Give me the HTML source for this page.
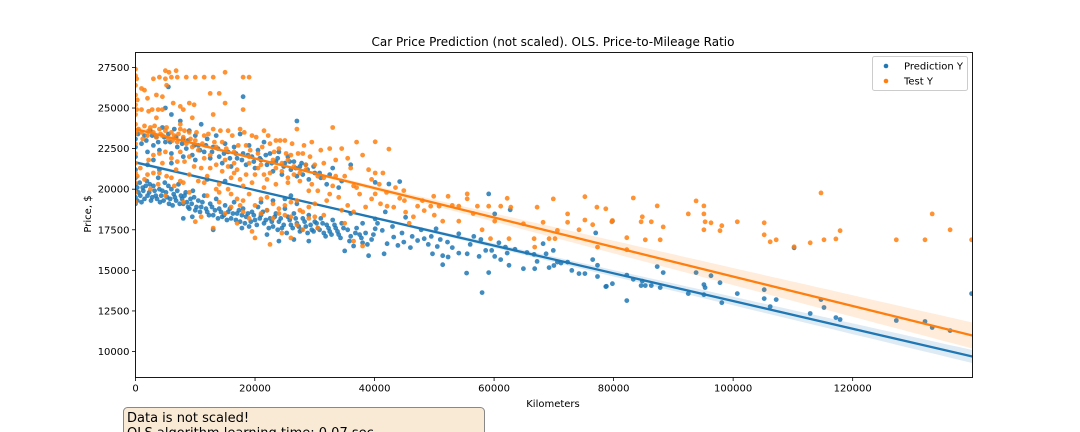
<!DOCTYPE html>
<html><head><meta charset="utf-8">
<style>
html,body{margin:0;padding:0;background:#fff;width:1080px;height:432px;overflow:hidden;}
svg{display:block;font-family:"DejaVu Sans","Liberation Sans",sans-serif;}
</style></head>
<body>
<svg id="chart" width="1080" height="432" viewBox="0 0 1080 432" xmlns="http://www.w3.org/2000/svg">
  <text x="553" y="46" font-size="12" text-anchor="middle" fill="#000">Car Price Prediction (not scaled). OLS. Price-to-Mileage Ratio</text>
  <g id="plot"></g>
  <rect x="135.5" y="52.5" width="837" height="325" fill="none" stroke="#000" stroke-width="0.9"/>
  <g id="ticks"></g>
  <text x="553" y="407" font-size="10" text-anchor="middle">Kilometers</text>
  <text x="91" y="214" font-size="10" text-anchor="middle" transform="rotate(-90 91 214)">Price, $</text>
  <g>
    <rect x="872.5" y="56.5" width="95" height="34" rx="2" fill="#fff" fill-opacity="0.8" stroke="#ccc"/>
    <circle cx="886" cy="66" r="2.3" fill="#1f77b4"/>
    <text x="904" y="69.5" font-size="10">Prediction Y</text>
    <circle cx="886" cy="81" r="2.3" fill="#ff7f0e"/>
    <text x="904" y="84.5" font-size="10">Test Y</text>
  </g>
  <g>
    <rect x="123.5" y="407.5" width="361" height="40" rx="4" fill="#f9ead6" stroke="#888" stroke-width="1"/>
    <text x="127" y="422" font-size="13">Data is not scaled!</text>
    <text x="127" y="437" font-size="13">OLS algorithm learning time: 0.07 sec</text>
  </g>
</svg>
<script>
const xTicks=[0,20000,40000,60000,80000,100000,120000];
const yTicks=[10000,12500,15000,17500,20000,22500,25000,27500];
const predFit=[21650,-0.0854];
const testFit=[23700,-0.0908];
const predPoints=[[0,19100],[0,19500],[0,19900],[0,20300],[0,20700],[0,21200],[0,22600],[0,23100],[0,22000],[300,19300],[300,20100],[400,23400],
[800,19600],[1200,20100],[1500,19400],[1900,20500],[2300,19800],[2600,19300],[3000,20200],[3400,19600],[3800,20700],[4100,19200],[4500,19900],[4900,20400],[5300,19500],[5600,19100],[6000,20000],[6400,19700],[6800,19300],[7200,20300],[7600,19600],[8000,19100],[8400,19800],[8800,18900],[9200,19400],[9600,19900],[10000,18700],
[10500,19300],[11000,18900],[11500,19600],[12000,18600],[12500,19100],[13000,18400],[13500,19400],[14000,18800],[14500,18300],[15000,19000],[15500,18600],[16000,18200],[16500,19200],[17000,18500],[17500,18000],[18000,18800],[18500,18300],[19000,17700],[19500,18600],[20000,18100],[9500,18300],[8000,18200],[13000,17500],[17800,17600],
[20500,18900],[21000,18400],[21500,17900],[22000,18700],[22500,18200],[23000,17700],[23500,18500],[24000,18000],[24500,17600],[25000,18800],[25500,18300],[26000,17800],[26500,18500],[27000,17900],[27500,17400],[28000,18200],[28500,17700],[29000,18400],[29500,17500],[30000,18000],[21000,19200],[23000,19300],[25000,19400],[22000,17200],[24000,16800],[26500,16900],[29000,16800],[27000,19100],[26000,19600],
[30500,17600],[31000,18200],[31500,17300],[32000,17800],[32500,17400],[33000,18100],[33500,17600],[34000,17200],[34500,17900],[35000,16200],[35500,17500],[36000,17100],[36500,16500],[37000,17600],[37500,17200],[38000,16700],[38500,17300],[39000,15900],[39500,16900],[36000,18500],[38000,17900],
[1000,22800],[1500,23300],[2000,22300],[2500,23600],[3000,22700],[3500,23200],[4000,22400],[4500,23800],[5000,22900],[5500,23400],[6000,22200],[6500,23700],[7000,22600],[7500,24200],[8000,23100],[8500,22500],[9000,23600],[9500,22100],[10000,23300],[10500,22700],[11000,24000],[11500,22300],[12000,23100],[12500,21900],[13000,22600],[13500,23300],[14000,22000],[14500,21600],[15000,22800],[15500,22300],[16000,21400],[16500,22600],[17000,21900],[17500,23400],[18000,22200],[18500,21500],[19000,22700],[19500,22000],[20000,21300],[20500,22400],[21000,21800],[21500,22900],[22000,21500],[22500,22200],[23000,21100],[23500,21700],[24000,22300],[24500,20900],[25000,21600],[25500,22000],[26000,21200],[26500,21700],[27000,20800],[27000,24200],[27500,21400],[28000,20900],[28500,21500],[29000,20600],[30000,21000],[31000,20700],[32000,20300],[33000,21300],[34000,20100],[36000,21500],[5000,25000],[5500,26300],[18000,25700],[6000,24600],[15000,20500],[12000,20600],[4000,21200],[2000,21500],
[500,19800],[700,20400],[1000,19200],[1300,19900],[1700,20200],[2000,19600],[2400,20300],[2800,19500],[3200,19900],[3600,19400],[4000,20000],[4300,19600],[4700,19300],[5100,19800],[5500,20200],[5800,19400],[6200,19000],[6600,19500],[7000,19900],[7400,19100],[7800,19400],[8200,19600],[8600,19200],[9000,18800],[9400,19100],[9800,19500],[10200,18900],[10800,18600],[11200,19200],[11800,18800],[12300,18400],[12800,18900],[13300,18700],[13800,18200],[14300,18600],[14800,18400],[15300,18100],[15800,18800],[16300,18500],[16800,18100],[17300,18700],[17800,18400],[18300,17900],[18800,18500],[19300,18000],[19800,18400],[20300,17800],[20800,18200],[21300,18600],[21800,18100],[22300,17600],[22800,18000],[23300,18300],[23800,17500],[24300,18200],[24800,17800],[25300,17300],[25800,18100],[26300,17600],[26800,18200],[27300,17700],[27800,17500],[28300,18000],[28800,17300],[29300,17800],[29800,17400],[30300,17900],[30800,17500],[31300,17900],[31800,17100],[32300,17600],[32800,17200],[33300,17800],[33800,17400],[34300,17000],[34800,17600],[35800,16800],[36800,17300],[37800,17000],[38800,16600],[39800,17200],
[1800,23000],[2800,23300],[3800,22900],[4800,23200],[5800,22900],[6800,23200],[7800,22800],[8800,23000],[9800,22700],[10800,22400],[11800,22700],[12800,22300],[13800,22500],[14800,22200],[15800,21900],[16800,22200],[17800,21800],[18800,22100],[19800,21700],[20800,21900],[21800,22100],[22800,21600],[23800,21900],[24800,21400],[25800,21700],[26800,21300],[27800,21600],[28800,21200],[29800,21400],[30800,21000],[32500,20900],[34500,20500],[8000,22000],[10000,21800],[6000,21600],[3000,21800],
[40100,20420],[42400,20320],[44200,20470],[40100,18170],[40100,17560],[41300,17460],[41600,16020],[42100,16640],[43200,17050],[43900,16540],[44900,16740],[45200,18270],[46300,17090],[47200,16840],[48300,16950],[49500,17090],[49700,16020],[50300,17560],[50500,16470],[51400,15350],[51400,15900],[52200,16740],[52300,15820],[54100,17250],[54100,16060],[55400,14830],[55500,16020],[56600,17090],[57500,15860],[58000,13630],[58600,16230],[59100,19710],[59100,14860],[59600,16230],[60100,18480],[60100,15860],[61100,15660],[61900,16430],[62200,16060],[62500,15310],[62700,18730],[64900,15100],[66700,15980],[66800,15100],[67200,15550],[68200,16640],[68700,16020],[69200,15170],[69900,16230],[70600,15510],[71200,15450],[72300,15510],[74200,14800],[75200,14800],[76500,15660],[77000,17310],[77300,15310],[77300,14620],[78800,14020],[79800,14180],[79800,18030],
[40500,17900],[41800,18600],[43000,17700],[44600,17300],[46000,16400],[47800,17500],[49000,16600],[51000,16900],[53000,16400],[56000,16600],[57800,16900],[60800,16700],[63500,16300],[65500,16100],[70000,15300],[73000,15000],
[78700,14000],[82200,14710],[82200,13140],[83300,14450],[84600,14060],[84800,14340],[85300,14060],[86300,14060],[87300,15230],[87800,13940],[88300,14860],[92500,13570],[93800,14860],[95100,14120],[95300,13940],[95100,13500],[96300,14670],[97800,14240],[98100,13010],[100700,13570],[105200,13810],[105200,13260],[106200,12770],[107200,13200],[110200,16390],[112900,12340],[114700,13200],[115200,12710],[117200,12090],[117900,11970],[127300,11910],[132100,11850],[133300,11480],[136300,11290],[139900,13570]];
const testPoints=[[0,19200],[0,19800],[0,20400],[0,21000],[0,21600],[0,22200],[0,22800],[0,23400],[0,24000],[0,24600],[0,25200],[0,25800],[0,26400],[0,27000],[0,27400],[200,26800],[200,24900],[200,23600],[300,20800],[300,25500],
[1000,24900],[1500,26100],[2000,25600],[2200,24800],[2800,24900],[3000,26800],[3500,25800],[3800,24900],[4000,26900],[4500,24900],[5000,27300],[5000,26800],[5200,26400],[5600,27200],[6000,26900],[6300,25300],[6800,27300],[7000,26900],[7500,25100],[8000,24900],[8500,26900],[9000,25300],[9800,25200],[10000,26900],[11500,26900],[12500,25900],[13000,26900],[14000,25900],[15000,27200],[15000,25300],[18000,26900],[19000,26900],[18000,24900],[3500,24400],[9500,24400],[13000,24600],[1000,26200],[4500,25700],[7500,24000],
[500,23700],[1000,23500],[1500,23900],[2000,23300],[2500,23800],[3000,23500],[3500,23200],[4000,23700],[4500,23300],[5000,23600],[5500,23100],[6000,23500],[6500,23300],[7000,22900],[7500,23700],[8000,23200],[8500,22800],[9000,23500],[9500,22600],[10000,23000],
[800,21300],[1500,20600],[2200,21800],[3000,21000],[3800,20300],[4500,21600],[5200,20800],[6000,21900],[6800,21200],[7500,20500],[8200,21700],[9000,20900],[9800,21400],[2500,20000],[6500,20200],[4000,22200],[7500,22300],[9000,19800],[5000,19600],[10000,18000],[8000,19200],
[10500,22400],[11000,21300],[11500,23300],[12000,20800],[12500,22100],[13000,23700],[13500,21500],[14000,20300],[14500,22900],[15000,21800],[15500,23600],[16000,20700],[16500,22300],[17000,21200],[17500,23700],[18000,20200],[18500,22700],[19000,21600],[19500,23300],[20000,20900],[20500,22200],[21000,21500],[21500,23600],[22000,20600],[22500,22800],[23000,21800],[23500,20300],[24000,22500],[24500,21100],[25000,23000],[25500,20700],[26000,22100],[26500,21400],[27000,23700],[27500,20500],[28000,22200],[28500,21200],[29000,19900],[29500,22900],[30000,21500],[12000,19600],[14000,19200],[16000,19700],[18000,19300],[11000,18300],[13000,17600],[15000,18500],[17000,17900],[19000,18200],[20000,17000],[21000,19400],[22000,18700],[23000,19100],[24000,18500],[25000,19000],[26000,18300],[27000,19300],[28000,17500],[22500,16600],[24500,17300],[19500,17400],[26000,17000],[27500,18700],[29000,18900],[30000,18300],[16500,21000],[19000,22000],[21500,20100],[23500,23000],[13500,22600],[15500,20000],[17500,19000],[25500,21800],[11500,21900],[10500,20500],
[30500,19900],[31000,22400],[31500,20700],[32000,19300],[32500,22500],[33000,20200],[33500,21800],[34000,19500],[34500,22500],[35000,20800],[35500,19000],[36000,21300],[36500,18600],[37000,20100],[37500,19700],[38000,22100],[38500,18900],[39000,21200],[39500,19400],[33000,23800],[31500,18400],[35000,17900],[38000,16500],[36500,16800],[30500,17600],[37000,22900],[39500,20600],
[1200,23100],[2200,23600],[3200,23900],[4200,23400],[5200,23800],[6200,23000],[7200,23400],[8200,23600],[9200,23100],[10200,23500],[11200,22800],[12200,23400],[13200,22900],[14200,23600],[15200,22500],[16200,23300],[17200,22700],[18200,23500],[19200,22400],[20200,23200],[21200,22600],[22200,23300],[23200,22300],[24200,23000],[25200,22200],[26200,22800],[27200,22200],[28200,22700],[29200,22000],[12500,21300],[14500,21100],[16500,21600],[18500,20900],[20500,21300],[22500,21000],[24500,21600],[26500,20900],[28500,21500],[30500,20800],[11500,20400],[13500,20000],[15500,21400],[17500,20600],[19500,20400],[21500,20900],[23500,21300],[25500,20400],[27500,21000],[29500,20300],[14000,19800],[16000,18900],[18000,18600],[20000,19000],[22000,19500],[24000,18800],[26000,19200],[28000,18600],[30000,19100],[21000,18500],[23000,18200],[25000,18400],[27000,17800],[29000,18200],[17000,19400],[19000,19700],[31500,21600],[33500,20800],[35500,21900],[32500,19700],[34500,18700],[36500,20200],[3000,22100],[5000,22300],[7000,21700],[9000,22000],[2000,20900],[4000,21000],[6000,20700],[8000,20400],
[40100,22920],[42400,22470],[40100,21000],[41400,21000],[40100,19710],[41000,19100],[42100,18950],[43200,18890],[44200,19440],[44900,19910],[45200,18580],[45800,17900],[47200,18950],[48300,18680],[49400,18950],[49900,19560],[50800,18950],[51400,18030],[52300,19560],[54100,18950],[54100,18030],[55500,19710],[55500,19410],[57200,18950],[58000,17500],[59100,18950],[59400,16950],[60100,18030],[61100,18950],[62200,19440],[62500,16950],[62800,18890],[64900,17870],[66700,16950],[66800,16430],[67200,18890],[68200,17960],[69200,16950],[69900,19400],[70200,16950],[70600,17460],[72300,18480],[72300,17960],[74200,17500],[75200,19540],[75200,18100],[76500,17810],[77200,18890],[77300,16430],[79800,18070],
[40800,20300],[42000,19800],[43500,20100],[45000,19300],[46500,18300],[48000,19300],[50000,18400],[53000,19000],[56500,18500],
[78700,18790],[79700,17990],[83300,19460],[82200,17010],[82200,16270],[84600,17990],[84800,18300],[85300,16880],[86300,17990],[87300,18970],[87800,16880],[88300,17680],[92500,18480],[93800,19280],[95100,18970],[95100,18480],[95300,17990],[95100,17500],[96300,17930],[97800,17440],[98100,17750],[100700,17990],[105200,17930],[105200,17190],[106200,16760],[107200,16880],[110200,16450],[112900,16700],[114700,19770],[115200,16880],[117200,16940],[117900,17440],[127300,16880],[132100,16880],[133300,18480],[136300,17500],[139900,16880]];

const X0=135.5,X1=972.5,Y0=52.5,Y1=377.5;
const xMin=0,xMax=140050,yMin=8400,yMax=28420;
function sx(v){return X0+(v-xMin)/(xMax-xMin)*(X1-X0);}
function sy(v){return Y1-(v-yMin)/(yMax-yMin)*(Y1-Y0);}
const NS='http://www.w3.org/2000/svg';
function mk(tag,attrs,parent){const e=document.createElementNS(NS,tag);for(const k in attrs)e.setAttribute(k,attrs[k]);parent.appendChild(e);return e;}
const plot=document.getElementById('plot');
const clip=mk('clipPath',{id:'pc'},plot);
mk('rect',{x:X0,y:Y0,width:X1-X0,height:Y1-Y0},clip);
const g=mk('g',{'clip-path':'url(#pc)'},plot);

function series(points,fit,color,name,w0,wEnd){
  const sg=mk('g',{},g);
  
  
  points.forEach(p=>{
    const c=mk('circle',{cx:sx(p[0]).toFixed(1),cy:sy(p[1]).toFixed(1),r:2.4,fill:color,'fill-opacity':0.85},sg);
    
    
  });
  const m=25000,kk=Math.sqrt(wEnd*wEnd-w0*w0)/(140000-m);
  let up=[],dn=[];
  for(let x=0;x<=140050;x+=2000){
    const y=fit[0]+fit[1]*x, w=Math.sqrt(w0*w0+kk*kk*(x-m)*(x-m));
    up.push(sx(x).toFixed(1)+','+sy(y+w).toFixed(1));
    dn.unshift(sx(x).toFixed(1)+','+sy(y-w).toFixed(1));
  }
  const band=mk('polygon',{points:up.concat(dn).join(' '),fill:color,'fill-opacity':0.15},sg);
  
  
  const ln=mk('line',{x1:sx(0),y1:sy(fit[0]),x2:sx(xMax),y2:sy(fit[0]+fit[1]*xMax),stroke:color,'stroke-width':2.3},sg);
  
  
}
series(predPoints,predFit,'#1f77b4','prediction',60,400);
series(testPoints,testFit,'#ff7f0e','test',90,800);

const tk=document.getElementById('ticks');
xTicks.forEach(v=>{
  const x=sx(v);
  const t=mk('line',{x1:x,y1:Y1,x2:x,y2:Y1+3.5,stroke:'#000','stroke-width':0.8},tk);
  
  
  const l=mk('text',{x:x,y:Y1+14,'font-size':10,'text-anchor':'middle'},tk);
  l.textContent=v;
  
  
});
yTicks.forEach(v=>{
  const y=sy(v);
  const t=mk('line',{x1:X0-3.5,y1:y,x2:X0,y2:y,stroke:'#000','stroke-width':0.8},tk);
  
  
  const l=mk('text',{x:X0-6,y:y+3.5,'font-size':10,'text-anchor':'end'},tk);
  l.textContent=v;
  
  
});
</script>
</body></html>
